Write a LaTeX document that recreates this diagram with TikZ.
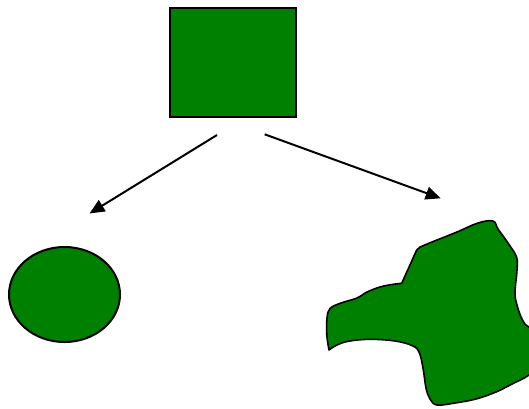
\documentclass[tikz,border=0pt]{standalone}
\usetikzlibrary{arrows.meta, positioning, shapes.geometric}
\definecolor{shapegreen}{RGB}{0,128,0}

\begin{document}
\begin{tikzpicture}[x=1pt, y=-1pt,
    shapebox/.style={draw=black, fill=shapegreen, line width=2pt, inner sep=0pt},
    splitarrow/.style={-{Triangle[length=15pt,width=13pt]}, line width=2pt}]
    \useasboundingbox (0,0) rectangle (529,408);
    \clip (0,0) rectangle (529,408);
    % parent square and regular child
    \node[shapebox, rectangle, minimum width=126pt, minimum height=109pt] (square) at (233,62.5) {};
    \node[shapebox, ellipse, minimum width=111pt, minimum height=95pt] (circle) at (64.5,294.5) {};
    % irregular child, runs past the right edge
    \filldraw[fill=shapegreen, draw=black, line width=1.6pt, line join=round]
      (416.7,250) -- (401.7,283.3)
      -- plot[smooth, tension=0.6] coordinates {(401.7,283.3) (392,284.5) (380,287) (367,292) (357,298) (341,303) (330,308.5) (327,318) (326.8,335) (329,350)}
      -- plot[smooth, tension=0.6] coordinates {(329,350) (336,345.5) (348,341.3) (370,339.3) (395,341) (412,345.5) (419,352) (423,368) (426,388) (430,399) (437,405) (455,403) (476,399) (496,392) (512,384) (529,375) (545,360)}
      -- plot[smooth, tension=0.6] coordinates {(545,330) (529,327) (522,319) (516.7,304) (515,292) (517,270) (516.5,257) (508,243) (498,229) (493,221) (478,223) (457,232) (432,242) (420,247)}
      -- cycle;
    % arrow ends
    \coordinate (leftfrom) at (217,135);
    \coordinate (leftto) at (89.5,213.5);
    \coordinate (rightfrom) at (264.7,134.3);
    \coordinate (rightto) at (440.7,198.3);
    \draw[splitarrow] (leftfrom) -- (leftto);
    \draw[splitarrow] (rightfrom) -- (rightto);
\end{tikzpicture}
\end{document}
